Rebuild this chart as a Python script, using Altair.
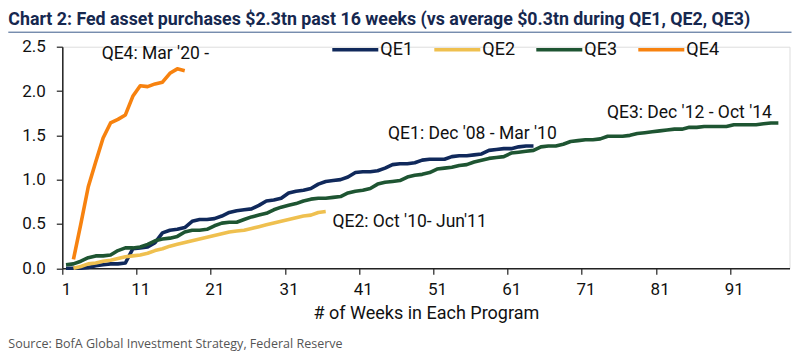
import altair as alt
import pandas as pd

# ---------------- data ----------------
series_names = ["QE1", "QE2", "QE3", "QE4"]
series_colors = ["#10295b", "#efc04f", "#1e5532", "#f7820f"]

qe1_start = 1
qe1 = [0.00, 0.00, 0.00, 0.01, 0.03, 0.04, 0.05, 0.05, 0.06, 0.22,
       0.23, 0.24, 0.29, 0.40, 0.43, 0.44, 0.46, 0.53, 0.55, 0.55,
       0.56, 0.59, 0.63, 0.65, 0.66, 0.67, 0.71, 0.76, 0.77, 0.79,
       0.85, 0.87, 0.88, 0.90, 0.95, 0.98, 0.99, 1.00, 1.03, 1.08,
       1.09, 1.09, 1.10, 1.13, 1.17, 1.18, 1.18, 1.19, 1.22, 1.23,
       1.23, 1.23, 1.26, 1.27, 1.27, 1.28, 1.29, 1.33, 1.34, 1.35,
       1.35, 1.37, 1.38, 1.38]

qe2_start = 2
qe2 = [0.00, 0.02, 0.05, 0.06, 0.08, 0.09, 0.11, 0.13, 0.14, 0.15,
       0.17, 0.20, 0.22, 0.25, 0.27, 0.29, 0.31, 0.33, 0.35, 0.37,
       0.39, 0.41, 0.42, 0.43, 0.45, 0.47, 0.49, 0.51, 0.53, 0.55,
       0.57, 0.59, 0.60, 0.63, 0.64]

qe3_start = 1
qe3 = [0.04, 0.05, 0.08, 0.12, 0.14, 0.14, 0.15, 0.20, 0.23, 0.23,
       0.24, 0.27, 0.31, 0.33, 0.34, 0.36, 0.41, 0.43, 0.43, 0.44,
       0.48, 0.51, 0.52, 0.52, 0.55, 0.58, 0.60, 0.62, 0.66, 0.69,
       0.71, 0.73, 0.76, 0.78, 0.79, 0.79, 0.80, 0.81, 0.85, 0.87,
       0.88, 0.90, 0.95, 0.97, 0.98, 0.99, 1.03, 1.05, 1.06, 1.08,
       1.12, 1.13, 1.14, 1.16, 1.17, 1.20, 1.22, 1.24, 1.25, 1.26,
       1.30, 1.31, 1.32, 1.33, 1.37, 1.38, 1.38, 1.40, 1.43, 1.44,
       1.45, 1.45, 1.46, 1.49, 1.49, 1.49, 1.50, 1.52, 1.53, 1.54,
       1.55, 1.56, 1.57, 1.57, 1.59, 1.59, 1.60, 1.60, 1.60, 1.60,
       1.62, 1.62, 1.62, 1.62, 1.63, 1.64, 1.64]

qe4_start = 2
qe4 = [0.10, 0.50, 0.92, 1.20, 1.47, 1.64, 1.68, 1.73, 1.94, 2.06,
       2.05, 2.08, 2.10, 2.20, 2.25, 2.23]

x_tick_labels = [1, 11, 21, 31, 41, 51, 61, 71, 81, 91]
y_ticks = [0.0, 0.5, 1.0, 1.5, 2.0, 2.5]

annot_text = ["QE4: Mar '20 -", "QE1: Dec '08 - Mar '10",
              "QE3: Dec '12 - Oct '14", "QE2: Oct '10- Jun'11"]
annot_week = [5.8, 44.4, 73.9, 36.9]
annot_value = [2.42, 1.52, 1.75, 0.52]

title_text = ("Chart 2: Fed asset purchases $2.3tn past 16 weeks "
              "(vs average $0.3tn during QE1, QE2, QE3)")
source_text = "Source:  BofA Global Investment Strategy, Federal Reserve"
x_title = "# of Weeks in Each Program"

# ---------------- tables ----------------
rows = []
for name, start, vals in [("QE1", qe1_start, qe1), ("QE2", qe2_start, qe2),
                          ("QE3", qe3_start, qe3), ("QE4", qe4_start, qe4)]:
    for i, v in enumerate(vals):
        rows.append({"series": name, "week": start + i, "value": v})
df = pd.DataFrame(rows)

annot_df = pd.DataFrame({"text": annot_text, "week": annot_week,
                         "value": annot_value})

FONT = "Roboto, Liberation Sans, sans-serif"
TITLE_FONT = "Roboto, Liberation Sans, sans-serif"

N_CAT = 98
W_PLOT = 727.2
H_PLOT = 221.6
half_cat = W_PLOT / N_CAT / 2

x_scale = alt.Scale(domain=[0.5, N_CAT + 0.5], nice=False, zero=False)
y_scale = alt.Scale(domain=[0, 2.5], nice=False)

x_axis = alt.Axis(
    values=[v - 0.5 for v in x_tick_labels],
    labelExpr="'' + (datum.value + 0.5)",
    labelOffset=half_cat,
    tickSize=6, tickColor="#222222", domainColor="#222222", domainWidth=1.5,
    tickWidth=1.2, labelFont=FONT, labelFontSize=17, labelColor="#111111",
    labelPadding=7, grid=False, title=x_title, titleFont=FONT,
    titleFontSize=18, titleFontWeight="normal", titleColor="#111111",
    titlePadding=7, labelFlush=False,
)
y_axis = alt.Axis(
    values=y_ticks, format=".1f", tickSize=6, tickColor="#222222",
    domainColor="#222222", domainWidth=1.5, tickWidth=1.2,
    labelFont=FONT, labelFontSize=17, labelColor="#111111",
    labelPadding=11, grid=False, title=None,
)

lines = alt.Chart(df).mark_line(strokeWidth=3.6, strokeJoin="round",
                                strokeCap="butt").encode(
    x=alt.X("week:Q", scale=x_scale, axis=x_axis),
    y=alt.Y("value:Q", scale=y_scale, axis=y_axis),
    color=alt.Color(
        "series:N",
        scale=alt.Scale(domain=series_names, range=series_colors),
        legend=alt.Legend(
            orient="none", legendX=268, legendY=-22, direction="horizontal",
            title=None, symbolType="stroke", symbolSize=2116,
            symbolStrokeWidth=3.6, labelFont=FONT, labelFontSize=18,
            labelColor="#111111", labelOffset=0, columnPadding=13,
            symbolOpacity=1,
        ),
    ),
    detail="series:N",
)

annots = alt.Chart(annot_df).mark_text(
    align="left", baseline="middle", font=FONT, fontSize=17.5, color="#111111"
).encode(x=alt.X("week:Q", scale=x_scale), y=alt.Y("value:Q", scale=y_scale),
         text="text:N")

title_mark = alt.Chart(pd.DataFrame({"t": [title_text]})).mark_text(
    align="left", baseline="alphabetic", font=TITLE_FONT, fontSize=17.8,
    fontWeight="bold", color="#16284f"
).encode(text="t:N", x=alt.value(-54), y=alt.value(-21.5))

underline = alt.Chart(pd.DataFrame({"a": [0]})).mark_rule(
    color="#3b5a8a", strokeWidth=1
).encode(x=alt.value(-54), x2=alt.value(W_PLOT + 2), y=alt.value(-14.5))

source_mark = alt.Chart(pd.DataFrame({"s": [source_text]})).mark_text(
    align="left", baseline="alphabetic", font="Open Sans, Lato, sans-serif",
    fontSize=12.5, color="#555555"
).encode(text="s:N", x=alt.value(-54), y=alt.value(301))

chart = alt.layer(lines, annots, title_mark, underline, source_mark).properties(
    width=W_PLOT, height=H_PLOT,
    autosize=alt.AutoSizeParams(type="none"),
    padding={"left": 54.3, "top": 38.7, "right": 2, "bottom": 84.7},
).configure_view(stroke=None).configure(background="white")

chart.save("out.html", embed_options={"renderer": "svg", "actions": False})
